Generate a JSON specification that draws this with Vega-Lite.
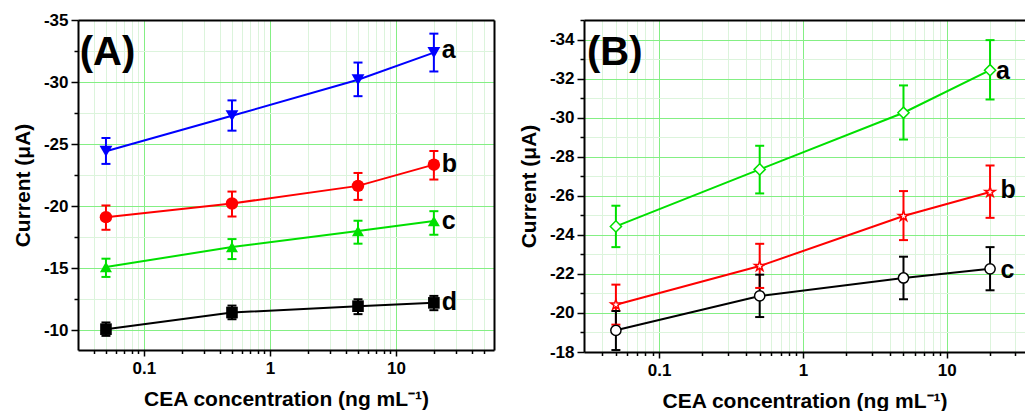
{
  "$schema": "https://vega.github.io/schema/vega-lite/v6.json",
  "padding": {"left": 12, "top": 11, "right": 0, "bottom": 0},
  "background": "white",
  "bounds": "flush",
  "spacing": 90,
  "config": {
    "font": "Liberation Sans",
    "view": {"stroke": null},
    "axis": {
      "labelFont": "Liberation Sans", "labelFontWeight": "bold", "labelFontSize": 17, "labelColor": "black",
      "titleFont": "Liberation Sans", "titleFontWeight": "bold", "titleFontSize": 21, "titleColor": "black",
      "domainColor": "black", "domainWidth": 2, "tickColor": "black", "tickWidth": 1.5,
      "labelOverlap": false, "labelFlush": false, "gridWidth": 1
    },
    "legend": {"disable": true}
  },
  "datasets": {
    "A": [
      {"series": "Aa", "x": 0.05, "y": -24.42, "lo": -23.40, "hi": -25.49},
      {"series": "Aa", "x": 0.5, "y": -27.28, "lo": -26.08, "hi": -28.52},
      {"series": "Aa", "x": 5, "y": -30.18, "lo": -28.86, "hi": -31.57},
      {"series": "Aa", "x": 20, "y": -32.37, "lo": -30.85, "hi": -33.90},
      {"series": "Ab", "x": 0.05, "y": -19.11, "lo": -18.09, "hi": -20.05},
      {"series": "Ab", "x": 0.5, "y": -20.21, "lo": -19.16, "hi": -21.17},
      {"series": "Ab", "x": 5, "y": -21.63, "lo": -20.50, "hi": -22.67},
      {"series": "Ab", "x": 20, "y": -23.34, "lo": -22.14, "hi": -24.44},
      {"series": "Ac", "x": 0.05, "y": -15.09, "lo": -14.29, "hi": -15.76},
      {"series": "Ac", "x": 0.5, "y": -16.70, "lo": -15.73, "hi": -17.34},
      {"series": "Ac", "x": 5, "y": -17.99, "lo": -16.97, "hi": -18.82},
      {"series": "Ac", "x": 20, "y": -18.79, "lo": -17.69, "hi": -19.59},
      {"series": "Ad", "x": 0.05, "y": -10.08, "lo": -9.54, "hi": -10.62},
      {"series": "Ad", "x": 0.5, "y": -11.42, "lo": -10.88, "hi": -11.98},
      {"series": "Ad", "x": 5, "y": -11.93, "lo": -11.29, "hi": -12.49},
      {"series": "Ad", "x": 20, "y": -12.20, "lo": -11.61, "hi": -12.76}
    ],
    "B": [
      {"series": "Ba", "x": 0.05, "y": -24.43, "lo": -23.37, "hi": -25.49},
      {"series": "Ba", "x": 0.5, "y": -27.35, "lo": -26.12, "hi": -28.56},
      {"series": "Ba", "x": 5, "y": -30.25, "lo": -28.88, "hi": -31.65},
      {"series": "Ba", "x": 20, "y": -32.43, "lo": -30.93, "hi": -33.97},
      {"series": "Bb", "x": 0.05, "y": -20.42, "lo": -19.40, "hi": -21.45},
      {"series": "Bb", "x": 0.5, "y": -22.40, "lo": -21.28, "hi": -23.54},
      {"series": "Bb", "x": 5, "y": -24.96, "lo": -23.73, "hi": -26.24},
      {"series": "Bb", "x": 20, "y": -26.19, "lo": -24.87, "hi": -27.55},
      {"series": "Bc", "x": 0.05, "y": -19.11, "lo": -18.10, "hi": -20.10},
      {"series": "Bc", "x": 0.5, "y": -20.87, "lo": -19.79, "hi": -21.96},
      {"series": "Bc", "x": 5, "y": -21.79, "lo": -20.70, "hi": -22.88},
      {"series": "Bc", "x": 20, "y": -22.26, "lo": -21.16, "hi": -23.37}
    ],
    "A_labels": [
      {"label": "a", "x": 20, "y": -32.6},
      {"label": "b", "x": 20, "y": -23.4},
      {"label": "c", "x": 20, "y": -18.8},
      {"label": "d", "x": 20, "y": -12.3}
    ],
    "B_labels": [
      {"label": "a", "x": 20, "y": -32.4},
      {"label": "b", "x": 21.5, "y": -26.3},
      {"label": "c", "x": 21.5, "y": -22.2}
    ],
    "A_panel": [{"label": "(A)", "x": 0.031, "y": -32.3}],
    "B_panel": [{"label": "(B)", "x": 0.0315, "y": -33.3}]
  },
  "hconcat": [
    {
      "width": 416,
      "height": 330,
      "resolve": {"axis": {"x": "independent", "y": "independent"}},
      "layer": [
        {
          "data": {"name": "A"},
          "mark": {"type": "rule", "strokeWidth": 2},
          "encoding": {
            "x": {
              "field": "x", "type": "quantitative",
              "scale": {"type": "log", "domain": [0.03, 60], "nice": false},
              "axis": {
                "orient": "bottom",
                "title": "CEA concentration (ng mL⁻¹)",
                "values": [0.04, 0.05, 0.06, 0.07, 0.08, 0.09, 0.1, 0.2, 0.3, 0.4, 0.5, 0.6, 0.7, 0.8, 0.9, 1, 2, 3, 4, 5, 6, 7, 8, 9, 10, 20, 30, 40, 50],
                "labelExpr": "datum.value == 0.1 ? '0.1' : datum.value == 1 ? '1' : datum.value == 10 ? '10' : ''",
                "tickSize": {"condition": {"test": "datum.value == 0.1 || datum.value == 1 || datum.value == 10", "value": 6}, "value": 3.5},
                "gridColor": {"condition": {"test": "datum.value == 0.1 || datum.value == 1 || datum.value == 10", "value": "#84ef84"}, "value": "#dcf4dc"},
                "grid": true, "labelPadding": 4, "titlePadding": 12
              }
            },
            "y": {
              "field": "lo", "type": "quantitative",
              "scale": {"domain": [-35, -8.4], "reverse": true, "nice": false, "zero": false},
              "axis": {
                "orient": "left",
                "title": "Current (μA)",
                "values": [-35, -32.5, -30, -27.5, -25, -22.5, -20, -17.5, -15, -12.5, -10],
                "labelExpr": "datum.value % 5 == 0 ? '-' + abs(datum.value) : ''",
                "tickSize": {"condition": {"test": "datum.value % 5 == 0", "value": 7}, "value": 4},
                "gridColor": {"condition": {"test": "datum.value % 5 == 0", "value": "#84ef84"}, "value": "#dcf4dc"},
                "grid": true, "labelPadding": 3, "titlePadding": 10
              }
            },
            "y2": {"field": "hi"},
            "color": {
              "field": "series", "type": "nominal",
              "scale": {"domain": ["Aa", "Ab", "Ac", "Ad", "Ba", "Bb", "Bc"], "range": ["#0000ff", "#ff0000", "#00e000", "#000000", "#00e000", "#ff0000", "#000000"]}
            }
          }
        },
        {
          "data": {"name": "A"},
          "mark": {"type": "tick", "orient": "horizontal", "size": 9, "thickness": 2, "opacity": 1},
          "encoding": {
            "x": {
              "field": "x", "type": "quantitative",
              "axis": {"orient": "top", "title": null, "labels": false, "ticks": false, "grid": false, "domain": true}
            },
            "y": {
              "field": "lo", "type": "quantitative",
              "axis": {"orient": "right", "title": null, "labels": false, "ticks": false, "grid": false, "domain": true}
            },
            "color": {"field": "series", "type": "nominal"}
          }
        },
        {
          "data": {"name": "A"},
          "mark": {"type": "tick", "orient": "horizontal", "size": 9, "thickness": 2, "opacity": 1},
          "encoding": {
            "x": {"field": "x", "type": "quantitative", "axis": null},
            "y": {"field": "hi", "type": "quantitative", "axis": null},
            "color": {"field": "series", "type": "nominal"}
          }
        },
        {
          "data": {"name": "A"},
          "mark": {"type": "line", "strokeWidth": 2},
          "encoding": {
            "x": {"field": "x", "type": "quantitative", "axis": null},
            "y": {"field": "y", "type": "quantitative", "axis": null},
            "color": {"field": "series", "type": "nominal"}
          }
        },
        {
          "data": {"name": "A"},
          "mark": {"type": "point", "filled": true, "opacity": 1},
          "encoding": {
            "x": {"field": "x", "type": "quantitative", "axis": null},
            "y": {"field": "y", "type": "quantitative", "axis": null},
            "color": {"field": "series", "type": "nominal"},
            "shape": {
              "field": "series", "type": "nominal",
              "scale": {"domain": ["Aa", "Ab", "Ac", "Ad", "Ba", "Bb", "Bc"], "range": ["triangle-down", "circle", "triangle-up", "square", "diamond", "M0,-1L0.2245,-0.309L0.951,-0.309L0.363,0.118L0.588,0.809L0,0.382L-0.588,0.809L-0.363,0.118L-0.951,-0.309L-0.2245,-0.309Z", "circle"]}
            },
            "size": {
              "field": "series", "type": "ordinal",
              "scale": {"domain": ["Aa", "Ab", "Ac", "Ad", "Ba", "Bb", "Bc"], "range": [165, 105, 165, 85, 150, 140, 105]}
            }
          }
        },
        {
          "data": {"name": "A_labels"},
          "mark": {"type": "text", "fontSize": 25, "fontWeight": "bold", "align": "left", "baseline": "middle", "dx": 8, "font": "Liberation Sans"},
          "encoding": {
            "x": {"field": "x", "type": "quantitative", "axis": null},
            "y": {"field": "y", "type": "quantitative", "axis": null},
            "text": {"field": "label"},
            "color": {"value": "black"}
          }
        },
        {
          "data": {"name": "A_panel"},
          "mark": {"type": "text", "fontSize": 40, "fontWeight": "bold", "align": "left", "baseline": "middle", "font": "Liberation Sans"},
          "encoding": {
            "x": {"field": "x", "type": "quantitative", "axis": null},
            "y": {"field": "y", "type": "quantitative", "axis": null},
            "text": {"field": "label"},
            "color": {"value": "black"}
          }
        }
      ]
    },
    {
      "width": 441,
      "height": 332,
      "resolve": {"axis": {"x": "independent", "y": "independent"}},
      "layer": [
        {
          "data": {"name": "B"},
          "mark": {"type": "rule", "strokeWidth": 2},
          "encoding": {
            "x": {
              "field": "x", "type": "quantitative",
              "scale": {"type": "log", "domain": [0.03, 35], "nice": false},
              "axis": {
                "orient": "bottom",
                "title": "CEA concentration (ng mL⁻¹)",
                "values": [0.04, 0.05, 0.06, 0.07, 0.08, 0.09, 0.1, 0.2, 0.3, 0.4, 0.5, 0.6, 0.7, 0.8, 0.9, 1, 2, 3, 4, 5, 6, 7, 8, 9, 10, 20, 30],
                "labelExpr": "datum.value == 0.1 ? '0.1' : datum.value == 1 ? '1' : datum.value == 10 ? '10' : ''",
                "tickSize": {"condition": {"test": "datum.value == 0.1 || datum.value == 1 || datum.value == 10", "value": 6}, "value": 3.5},
                "gridColor": {"condition": {"test": "datum.value == 0.1 || datum.value == 1 || datum.value == 10", "value": "#84ef84"}, "value": "#dcf4dc"},
                "grid": true, "labelPadding": 4, "titlePadding": 12
              }
            },
            "y": {
              "field": "lo", "type": "quantitative",
              "scale": {"domain": [-35, -18], "reverse": true, "nice": false, "zero": false},
              "axis": {
                "orient": "left",
                "title": "Current (μA)",
                "values": [-35, -34, -33, -32, -31, -30, -29, -28, -27, -26, -25, -24, -23, -22, -21, -20, -19, -18],
                "labelExpr": "datum.value % 2 == 0 ? '-' + abs(datum.value) : ''",
                "tickSize": {"condition": {"test": "datum.value % 2 == 0", "value": 7}, "value": 4},
                "gridColor": {"condition": {"test": "datum.value % 2 == 0", "value": "#84ef84"}, "value": "#dcf4dc"},
                "grid": true, "labelPadding": 3, "titlePadding": 10
              }
            },
            "y2": {"field": "hi"},
            "color": {"field": "series", "type": "nominal"}
          }
        },
        {
          "data": {"name": "B"},
          "mark": {"type": "tick", "orient": "horizontal", "size": 9, "thickness": 2, "opacity": 1},
          "encoding": {
            "x": {"field": "x", "type": "quantitative", "axis": null},
            "y": {"field": "lo", "type": "quantitative", "axis": null},
            "color": {"field": "series", "type": "nominal"}
          }
        },
        {
          "data": {"name": "B"},
          "mark": {"type": "tick", "orient": "horizontal", "size": 9, "thickness": 2, "opacity": 1},
          "encoding": {
            "x": {"field": "x", "type": "quantitative", "axis": null},
            "y": {"field": "hi", "type": "quantitative", "axis": null},
            "color": {"field": "series", "type": "nominal"}
          }
        },
        {
          "data": {"name": "B"},
          "mark": {"type": "line", "strokeWidth": 2},
          "encoding": {
            "x": {"field": "x", "type": "quantitative", "axis": null},
            "y": {"field": "y", "type": "quantitative", "axis": null},
            "color": {"field": "series", "type": "nominal"}
          }
        },
        {
          "data": {"name": "B"},
          "mark": {"type": "point", "filled": false, "fill": "white", "strokeWidth": 1.5, "opacity": 1},
          "encoding": {
            "x": {"field": "x", "type": "quantitative", "axis": null},
            "y": {"field": "y", "type": "quantitative", "axis": null},
            "color": {"field": "series", "type": "nominal"},
            "shape": {"field": "series", "type": "nominal"},
            "size": {"field": "series", "type": "ordinal"}
          }
        },
        {
          "data": {"name": "B_labels"},
          "mark": {"type": "text", "fontSize": 25, "fontWeight": "bold", "align": "left", "baseline": "middle", "dx": 6, "font": "Liberation Sans"},
          "encoding": {
            "x": {"field": "x", "type": "quantitative", "axis": null},
            "y": {"field": "y", "type": "quantitative", "axis": null},
            "text": {"field": "label"},
            "color": {"value": "black"}
          }
        },
        {
          "data": {"name": "B_panel"},
          "mark": {"type": "text", "fontSize": 40, "fontWeight": "bold", "align": "left", "baseline": "middle", "font": "Liberation Sans"},
          "encoding": {
            "x": {
              "field": "x", "type": "quantitative",
              "axis": {"orient": "top", "title": null, "labels": false, "ticks": false, "grid": false, "domain": true}
            },
            "y": {"field": "y", "type": "quantitative", "axis": null},
            "text": {"field": "label"},
            "color": {"value": "black"}
          }
        }
      ]
    }
  ]
}
